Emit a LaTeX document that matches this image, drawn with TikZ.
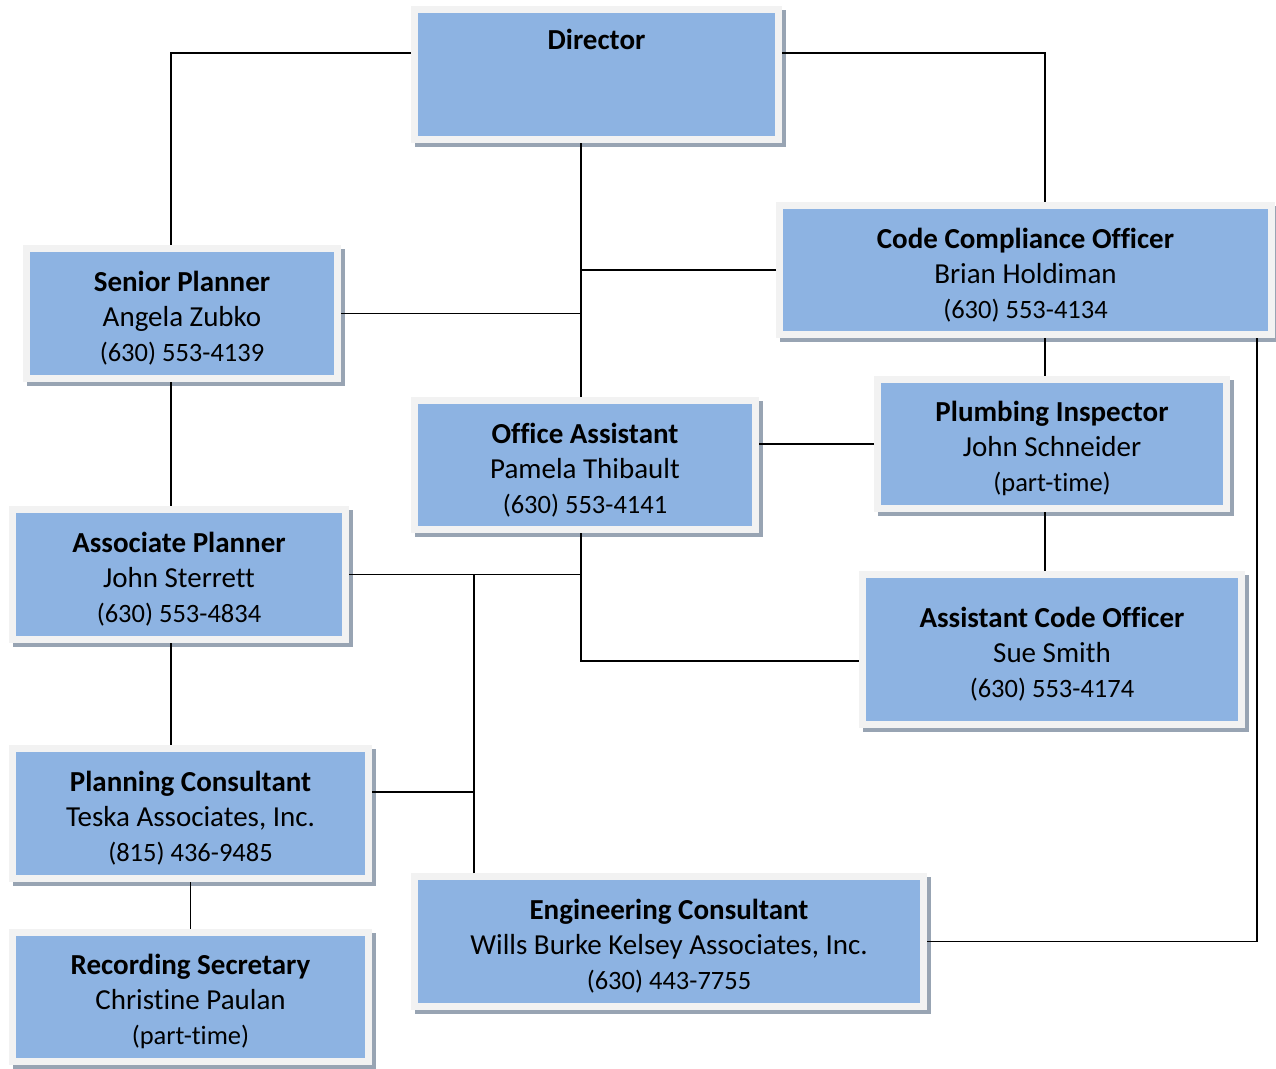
\documentclass[tikz,border=0pt]{standalone}
\usepackage{fontspec}
\setmainfont{Carlito}[Ligatures=NoCommon]
\usetikzlibrary{shadows}
\definecolor{boxblue}{HTML}{8DB3E2}
\definecolor{framegrey}{HTML}{F2F2F2}
\definecolor{shadegrey}{HTML}{98A4B3}
\newcommand\contact[1]{{\fontsize{26.5}{35}\selectfont #1}}

\begin{document}
\begin{tikzpicture}[x=1pt,y=-1pt,
    post/.style={rectangle,fill=boxblue,draw=framegrey,line width=7pt,
      inner sep=0pt,align=center,font=\fontsize{29}{35}\selectfont,
      text height=100pt,
      drop shadow={shadow xshift=4pt,shadow yshift=-4pt,opacity=1,
        fill=shadegrey,draw=shadegrey,line width=7pt}},
    link/.style={draw=black,line width=1.7pt}]
  \useasboundingbox (0,0) rectangle (1276,1068);

  \node[post,minimum width=364pt,minimum height=130pt] (dir) at (596.5,74.5) {\textbf{Director}\\ \strut\\ \strut};
  \node[post,minimum width=311pt,minimum height=130pt] (sp) at (182,313.5) {\textbf{Senior Planner}\\ Angela Zubko\\ \contact{(630) 553-4139}};
  \node[post,minimum width=492pt,minimum height=129pt] (cco) at (1025.5,270) {\textbf{Code Compliance Officer}\\ Brian Holdiman\\ \contact{(630) 553-4134}};
  \node[post,minimum width=341pt,minimum height=129pt] (oa) at (585,465) {\textbf{Office Assistant}\\ Pamela Thibault\\ \contact{(630) 553-4141}};
  \node[post,minimum width=349pt,minimum height=129pt] (pi) at (1052,444) {\textbf{Plumbing Inspector}\\ John Schneider\\ \contact{(part-time)}};
  \node[post,minimum width=333pt,minimum height=130pt] (ap) at (179,574.5) {\textbf{Associate Planner}\\ John Sterrett\\ \contact{(630) 553-4834}};
  \node[post,minimum width=379pt,minimum height=150pt] (aco) at (1052,649.5) {\textbf{Assistant Code Officer}\\ Sue Smith\\ \contact{(630) 553-4174}};
  \node[post,minimum width=356pt,minimum height=130pt] (pc) at (190.5,813.5) {\textbf{Planning Consultant}\\ Teska Associates, Inc.\\ \contact{(815) 436-9485}};
  \node[post,minimum width=356pt,minimum height=129pt] (rs) at (190.5,997) {\textbf{Recording Secretary}\\ Christine Paulan\\ \contact{(part-time)}};
  \node[post,minimum width=509pt,minimum height=130pt] (ec) at (669,941.5) {\textbf{Engineering Consultant}\\ Wills Burke Kelsey Associates, Inc.\\ \contact{(630) 443-7755}};

  % connectors
  \draw[link] ([yshift=21.5pt]dir.west) -| ([xshift=-11pt]sp.north);
  \draw[link] ([yshift=21.5pt]dir.east) -| ([xshift=19.5pt]cco.north);
  \draw[link] ([xshift=-4pt]oa.north) -- ([xshift=-4pt]oa.north |- dir.south);
  \draw[link] (cco.west) -- ([xshift=-4pt]oa.north |- cco.west);
  \draw[link] (sp.east) -- ([xshift=-4pt]oa.north |- sp.east);
  \draw[link] ([xshift=-11pt]sp.south) -- ([xshift=-11pt]sp.south |- ap.north);
  \draw[link] ([xshift=19.5pt]cco.south) -- ([xshift=19.5pt]cco.south |- pi.north);
  \draw[link] (pi.west) -- (pi.west -| oa.east);
  \draw[link] ([xshift=-7pt]pi.south) -- ([xshift=-7pt]pi.south |- aco.north);
  \draw[link] ([xshift=-4pt]oa.south) |- ([yshift=-11.5pt]aco.west);
  \draw[link] (ap.east) -- ([xshift=-4pt]oa.south |- ap.east);
  \draw[link] ([xshift=-195pt]ec.north) -- ([xshift=-195pt]ec.north |- ap.east);
  \draw[link] ([yshift=21.5pt]pc.east) -- ([xshift=-195pt,yshift=21.5pt]ec.north |- pc.east);
  \draw[link] ([xshift=-8pt]ap.south) -- ([xshift=-8pt]ap.south |- pc.north);
  \draw[link] (pc.south) -- (rs.north);
  \draw[link] ([xshift=-18pt]cco.south east) |- (ec.east);
\end{tikzpicture}
\end{document}
